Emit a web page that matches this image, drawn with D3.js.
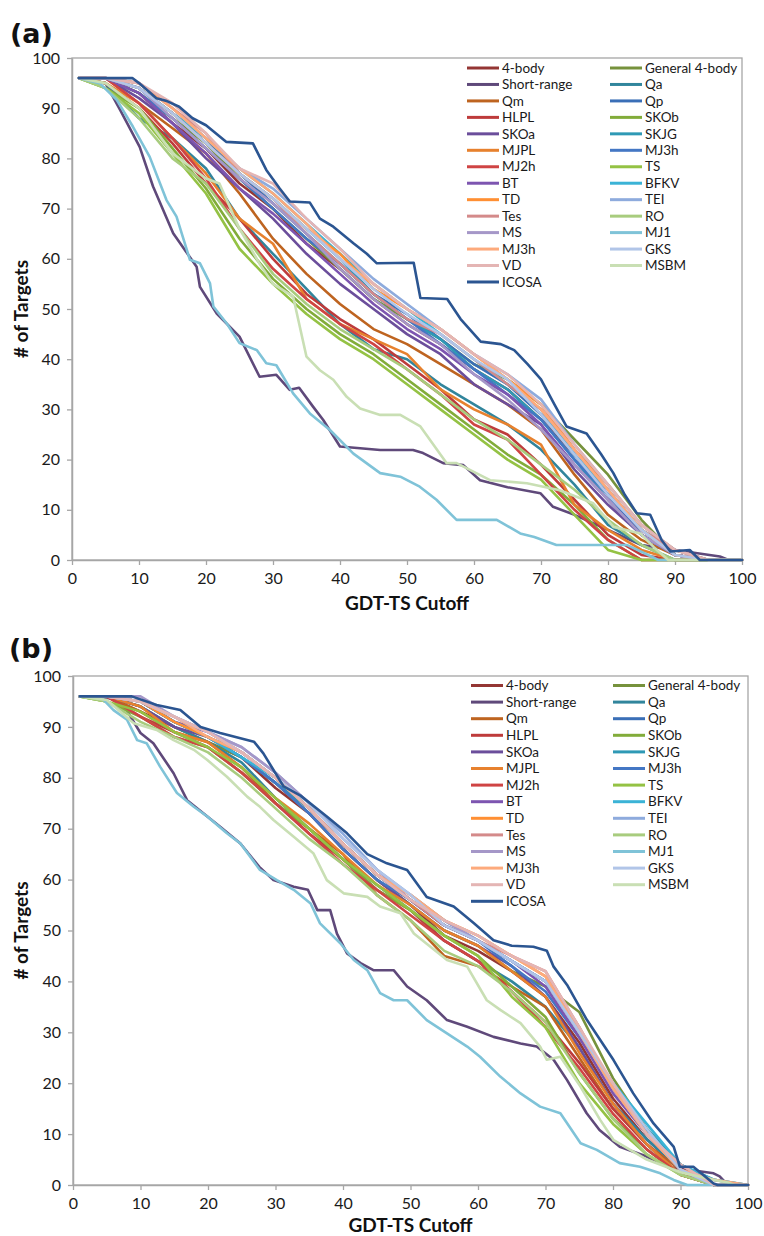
<!DOCTYPE html>
<html><head><meta charset="utf-8">
<script src="https://cdn.jsdelivr.net/npm/d3@7"></script>
<style>body{margin:0;background:#fff}svg{display:block}</style>
</head><body>
<svg id="chart" width="764" height="1236"></svg>
<script>
// ---------- DATA ----------
const cutoffs = [1,5,10,15,20,25,30,35,40,45,50,55,60,65,70,75,80,85,90,95,100];
const xTicks = [0,10,20,30,40,50,60,70,80,90,100];
const yTicks = [0,10,20,30,40,50,60,70,80,90,100];
const seriesNames = ["4-body","General 4-body","Short-range","Qa","Qm","Qp","HLPL","SKOb","SKOa","SKJG","MJPL","MJ3h","MJ2h","TS","BT","BFKV","TD","TEI","Tes","RO","MS","MJ1","MJ3h","GKS","VD","MSBM","ICOSA"];
const seriesColors = ["#943634","#76923C","#5F497A","#31859C","#BE6420","#3A6FB7","#BE3B3B","#82AC3A","#6B4E9B","#2F99B5","#E7812E","#4477C4","#CF4444","#94C244","#7D55B0","#3BB3D6","#FF8F33","#8EABDD","#D48A8A","#A8CC7E","#A597C8","#7FC3D8","#FDAA7C","#B1C5E8","#E4B5B4","#C9DFB4","#2B5591"];

// Panel (a): # of targets at each cutoff (bundle series on the common cutoffs)
const a_4body  = [96,96,93,87,82,75,70,63,58,52,47,43,38,34,28,21,13,6,1,0,0];
const a_gen4   = [96,96,93,88,83,76,70,64,58,52,48,44,39,36,31,24,17,8,1,0,0];
const a_qa     = [96,95,88,84,78,68,61,54,47,42,40,35,31,27,22,15,7,3,0,0,0];
const a_qm     = [96,96,91,86,81,73,64,57,51,46,43,39,35,31,26,17,9,4,1,0,0];
const a_qp     = [96,96,94,89,84,77,71,65,59,53,49,44,39,35,29,21,13,5,1,0,0];
const a_hlpl   = [96,95,90,83,75,68,60,53,48,44,39,34,28,25,19,12,5,1,0,0,0];
const a_skob   = [96,94,90,82,74,64,56,50,45,41,36,31,26,21,17,11,4,0,0,0,0];
const a_skoa   = [96,96,92,87,80,74,68,61,55,50,45,41,35,31,27,18,11,5,1,0,0];
const a_skjg   = [96,96,94,89,83,77,72,66,60,53,48,44,38,34,28,20,12,5,1,0,0];
const a_mjpl   = [96,95,91,84,77,68,63,52,47,44,41,34,30,27,23,11,6,2,0,0,0];
const a_mj3h   = [96,96,93,88,82,76,70,64,59,53,48,43,38,33,28,20,13,6,1,0,0];
const a_mj2h   = [96,96,91,84,76,66,58,52,47,43,38,33,27,24,17,10,4,0,0,0,0];
const a_ts     = [96,94,89,81,73,62,55,49,44,40,35,30,25,20,16,9,2,0,0,0,0];
const a_bt     = [96,96,93,87,81,74,69,63,57,51,46,42,37,33,27,19,12,5,1,0,0];
const a_bfkv   = [96,96,94,89,84,78,73,67,61,55,50,45,40,35,30,21,14,6,2,0,0];
const a_td     = [96,96,94,89,83,77,72,66,61,54,50,46,41,36,31,22,15,7,2,0,0];
const a_tei    = [96,96,95,90,84,78,74,68,62,56,51,46,41,37,32,23,15,7,2,0,0];
const a_tes    = [96,96,95,90,85,77,72,65,59,53,48,45,40,35,30,22,14,6,2,0,0];
const a_ro     = [96,94,88,80,75,66,57,51,46,42,38,33,28,24,19,14,8,3,0,0,0];
const a_ms     = [96,96,94,88,82,76,71,65,58,52,47,43,37,32,26,19,12,5,1,0,0];
const a_mj3h2  = [96,96,95,90,84,78,73,67,60,55,50,46,41,36,30,22,14,6,1,0,0];
const a_gks    = [96,96,94,89,83,77,72,66,60,54,49,45,40,36,29,21,13,6,1,0,0];
const a_vd     = [96,96,95,91,85,78,75,68,62,55,50,46,41,37,31,23,15,7,2,0,0];
// Panel (a) distinctive series, read at their own cutoffs
const a_short_x = [1,5,7.2,10.1,12.1,15.1,18.6,19.1,21.6,25,28,30.5,32.5,33.9,36,37.5,40,46,50.9,52.4,55.4,58.4,60.9,65,69.9,71.8,75,80,85,90,96.7,98,100];
const a_short   = [96,95,89.6,82.3,74.4,65.1,58.4,54.4,49.1,44.5,36.5,36.9,33.9,34.3,30.5,27.9,22.6,21.9,21.9,21.3,19.3,18.9,15.9,14.5,13.3,10.6,9,6,3,2,0.7,0,0];
const a_mj1_x = [1,4.2,6.7,9.1,11.6,14.1,15.6,17.6,19.1,20.6,21.1,23.1,25,27.6,29,30.5,33,35.5,38.5,42,46,49,51.9,54.4,57.4,63.4,66.9,69,72.3,82.8,86,87.5,100];
const a_mj1   = [96,94.9,91.6,86.3,80.3,71.7,68.4,59.8,59.1,55.1,50.5,47.1,43.2,41.8,39.2,38.8,33.2,29.2,25.9,21.2,17.3,16.6,14.6,12,8,8,5.3,4.6,3,3,1,0,0];
const a_msbm_x = [1,5,10,15,20,22,25,28,30,33,35,37,39,41,43,46,49,52,55.9,57.4,62.4,67.9,72.8,77.8,80.8,84.8,86.8,89,100];
const a_msbm   = [96,95,90,81,76,75,66,59,55,52.5,40.5,37.8,35.9,32.5,30.2,28.9,28.9,26.6,19.3,19.3,15.9,15.3,13.9,11.3,6.6,5.3,2.6,0,0];
const a_icosa_x = [1,9,10,12.6,14,16,18,20,23,27,29,31,32.5,35.5,37,39,42,44,45.5,51,52,56,58,61,64,66,68,70,72,73.8,76.8,79,80.8,82.5,84.3,86.3,88,89.3,92.2,93.7,100];
const a_icosa   = [96,96,95,92,91.5,90.3,88,86.6,83.3,83,77.7,74,71.4,71.2,68,66.4,63.1,61,59.1,59.2,52.2,52,48,43.5,43,41.8,39,36,31,26.6,25.2,21,17.3,13,9.3,9,4,1.7,2,0,0];

// Panel (b)
const b_4body  = [96,96,93,90,87,84,78,73,66,60,55,49,46,42,37,28,17,9,3,0,0];
const b_gen4   = [96,96,94,90,87,84,79,73,66,60,55,50,47,42,39,34,21,11,4,0,0];
const b_qa     = [96,96,94,90,87,83,76,70,64,59,54,48,44,40,35,27,16,9,3,0,0];
const b_qm     = [96,96,93,89,87,82,75,70,65,57,52,45,43,39,35,25,15,8,3,0,0];
const b_qp     = [96,96,95,91,88,85,80,74,67,61,56,51,48,44,40,30,19,10,3,0,0];
const b_hlpl   = [96,96,92,89,86,81,75,69,64,58,54,48,44,38,32,24,15,8,2,0,0];
const b_skob   = [96,95,92,88,86,81,75,70,64,58,54,49,45,39,33,22,13,7,2,0,0];
const b_skoa   = [96,96,94,90,88,84,79,73,66,60,55,50,47,43,37,27,16,8,2,0,0];
const b_skjg   = [96,96,95,91,88,84,79,74,67,61,56,51,48,44,40,30,19,11,4,1,0];
const b_mjpl   = [96,96,94,89,87,82,76,71,65,59,55,50,47,42,37,26,16,8,2,0,0];
const b_mj3h   = [96,96,95,91,88,84,79,73,66,60,56,51,48,43,38,29,19,10,3,0,0];
const b_mj2h   = [96,96,92,88,86,81,75,69,63,58,53,48,44,38,31,23,14,7,2,0,0];
const b_ts     = [96,95,93,89,86,82,76,70,64,59,54,49,45,37,31,20,12,6,2,0,0];
const b_bt     = [96,96,95,91,89,85,80,74,67,61,56,51,48,44,39,29,18,10,3,0,0];
const b_bfkv   = [96,96,95,91,88,84,80,74,67,61,56,52,48,44,40,30,20,12,4,1,0];
const b_td     = [96,96,95,91,88,85,80,74,67,61,57,52,49,45,41,31,19,10,3,0,0];
const b_tei    = [96,96,95,92,89,86,81,75,69,62,57,52,48,44,40,30,19,10,3,0,0];
const b_tes    = [96,96,95,92,89,85,80,74,67,61,56,51,48,45,42,31,19,10,4,0,0];
const b_ro     = [96,95,91,88,85,80,74,68,63,57,52,46,43,38,32,22,13,6,2,0,0];
const b_ms     = [96,96,96,92,89,86,81,75,68,62,56,52,48,44,40,30,19,10,3,0,0];
const b_mj3h2  = [96,96,95,92,88,85,80,74,67,61,57,52,49,45,41,30,19,10,3,1,0];
const b_gks    = [96,96,95,92,89,85,80,75,68,62,57,51,48,44,40,30,20,11,3,0,0];
const b_vd     = [96,96,95,92,89,85,80,74,67,61,56,52,49,45,42,31,20,10,4,0,0];
const b_short_x = [1,3.6,7,10,11.9,14.9,16.9,19.9,21.8,24.8,27.6,29.7,32.7,34.8,36.2,38.1,39.1,40.6,42.6,44.5,47.5,49.5,52.4,55.4,58.4,62.3,66.3,68.7,71.2,73.2,76.1,78,81,85,88,94.9,95.8,97,100];
const b_short   = [96,96,95.3,88.8,86.8,80.9,75.6,72.4,70.4,67.1,62.5,59.9,58.6,58,54,54,49.4,45.5,43.6,42.2,42.2,39,36.3,32.4,31.1,29.1,27.8,27.2,24.6,20.6,14.1,10.8,7.5,5.6,3.6,2.3,1.7,0,0];
const b_mj1_x = [1,4.1,6,8,9.5,10.9,12.9,15.4,17.9,19.9,22.8,24.8,27.7,30.2,32.7,35.2,36.6,39.6,41.6,43.6,45.5,47.5,49.5,52.4,55.4,58.4,60.3,63.3,66.3,69.2,72.2,75.2,77.6,81,84,87,89,91,100];
const b_mj1   = [96,95.9,93.3,91.4,87.4,86.8,82.2,77,74.3,72.4,69.1,67.1,61.9,59.9,58,55.3,51.4,47.5,44.2,42.2,37.7,36.3,36.3,32.4,29.8,27.2,25.2,21.3,18,15.4,14.1,8.2,6.9,4.3,3.6,2.3,1,0,0];
const b_msbm_x = [1,5,9,12.4,14.9,17.9,19.9,22.8,25.8,27.7,29.7,32.7,35.6,37.6,40.1,43.6,45.5,48.5,50.5,55.4,58.4,61.3,63.3,66.3,69.2,70.2,72.2,75.2,78.1,80.1,85,90,95,97,98,100];
const b_msbm   = [96,95.3,90.7,89.4,87.4,85.5,83.5,80.2,76.3,74.3,71.7,68.4,65.2,59.9,57.3,56.6,54.7,53.4,49.4,44.2,42.9,36.3,34.4,31.8,27.2,24.6,25.2,19.3,12.8,8.8,5,2.5,1,0.5,0,0];
const b_icosa_x = [1,8.7,12.4,15.9,18.9,21.8,26.8,28.2,31.2,33.7,37.6,40.6,43.6,46.5,49.5,52.4,56.4,59.4,62.3,65,68.2,70.2,71.2,73.2,76.1,80.1,83,86,89,89.9,91.9,94.9,95.5,100];
const b_icosa   = [96,96,94.3,93.3,90,88.8,87.1,84.8,78.3,76.5,72.4,69.1,65,63.2,61.9,56.6,54.7,51.4,48.1,47,46.8,46,42.9,39.3,32.5,24.5,18,12.1,7.5,3.6,3.6,0.3,0,0];

// series lists in legend order: [cutoffs, values]
const panelASeries = [[cutoffs,a_4body],[cutoffs,a_gen4],[a_short_x,a_short],[cutoffs,a_qa],[cutoffs,a_qm],[cutoffs,a_qp],[cutoffs,a_hlpl],[cutoffs,a_skob],[cutoffs,a_skoa],[cutoffs,a_skjg],[cutoffs,a_mjpl],[cutoffs,a_mj3h],[cutoffs,a_mj2h],[cutoffs,a_ts],[cutoffs,a_bt],[cutoffs,a_bfkv],[cutoffs,a_td],[cutoffs,a_tei],[cutoffs,a_tes],[cutoffs,a_ro],[cutoffs,a_ms],[a_mj1_x,a_mj1],[cutoffs,a_mj3h2],[cutoffs,a_gks],[cutoffs,a_vd],[a_msbm_x,a_msbm],[a_icosa_x,a_icosa]];
const panelBSeries = [[cutoffs,b_4body],[cutoffs,b_gen4],[b_short_x,b_short],[cutoffs,b_qa],[cutoffs,b_qm],[cutoffs,b_qp],[cutoffs,b_hlpl],[cutoffs,b_skob],[cutoffs,b_skoa],[cutoffs,b_skjg],[cutoffs,b_mjpl],[cutoffs,b_mj3h],[cutoffs,b_mj2h],[cutoffs,b_ts],[cutoffs,b_bt],[cutoffs,b_bfkv],[cutoffs,b_td],[cutoffs,b_tei],[cutoffs,b_tes],[cutoffs,b_ro],[cutoffs,b_ms],[b_mj1_x,b_mj1],[cutoffs,b_mj3h2],[cutoffs,b_gks],[cutoffs,b_vd],[b_msbm_x,b_msbm],[b_icosa_x,b_icosa]];

// ---------- LAYOUT ----------
const panels = [
  {label:"(a)", series:panelASeries, left:72, right:742, top:58, bottom:560, labelX:10, labelY:43, titleGap:50,
   legX1:467, legX2:610, legTop:68, legStep:16.46, legLine:32},
  {label:"(b)", series:panelBSeries, left:73, right:748, top:676, bottom:1185, labelX:9, labelY:658, titleGap:47,
   legX1:471, legX2:613, legTop:685.5, legStep:16.6, legLine:32}
];

const svg = d3.select("#chart");
const FONT = "Lato, 'Open Sans', sans-serif";
const axisColor = "#A6A6A6";

panels.forEach(p => {
  const g = svg.append("g");
  const x = d3.scaleLinear().domain([0,100]).range([p.left, p.right]);
  const y = d3.scaleLinear().domain([0,100]).range([p.bottom, p.top]);

  g.append("rect").attr("x", p.left).attr("y", p.top)
    .attr("width", p.right - p.left).attr("height", p.bottom - p.top)
    .attr("fill", "none").attr("stroke", axisColor).attr("stroke-width", 1.3);

  const xAxis = d3.axisBottom(x).tickValues(xTicks).tickSize(5).tickSizeOuter(0).tickPadding(8);
  const yAxis = d3.axisLeft(y).tickValues(yTicks).tickSize(5).tickSizeOuter(0).tickPadding(7);
  const gx = g.append("g").attr("transform", `translate(0,${p.bottom})`).call(xAxis);
  const gy = g.append("g").attr("transform", `translate(${p.left},0)`).call(yAxis);
  [gx, gy].forEach(ax => {
    ax.select(".domain").attr("stroke", axisColor).attr("stroke-width", 1.5);
    ax.selectAll(".tick line").attr("stroke", axisColor).attr("stroke-width", 1.3);
    ax.selectAll(".tick text").attr("fill", "#1a1a1a").style("font-family", FONT).style("font-size", "16px");
  });

  p.series.forEach(([xs, vals], k) => {
    const pts = vals.map((v, i) => [xs[i], v]);
    const line = d3.line().x(d => x(d[0])).y(d => y(d[1]));
    g.append("path").datum(pts).attr("d", line)
      .attr("fill", "none").attr("stroke", seriesColors[k]).attr("stroke-width", 2.6)
      .attr("stroke-linejoin", "round").attr("stroke-linecap", "round");
  });

  seriesNames.forEach((name, k) => {
    const col = k % 2, row = Math.floor(k / 2);
    const lx = col === 0 ? p.legX1 : p.legX2;
    const ly = p.legTop + row * p.legStep;
    g.append("line").attr("x1", lx).attr("x2", lx + p.legLine).attr("y1", ly).attr("y2", ly)
      .attr("stroke", seriesColors[k]).attr("stroke-width", 3);
    g.append("text").attr("x", lx + p.legLine + 3).attr("y", ly).attr("dy", "0.35em")
      .style("font-family", FONT).style("font-size", "13.5px").attr("fill", "#1a1a1a").text(name);
  });

  g.append("text").attr("x", (p.left + p.right) / 2).attr("y", p.bottom + p.titleGap)
    .attr("text-anchor", "middle").style("font-family", FONT).style("font-weight", "bold")
    .style("font-size", "19px").attr("fill", "#111").text("GDT-TS Cutoff");
  g.append("text").attr("transform", `translate(28,${(p.top + p.bottom) / 2}) rotate(-90)`)
    .attr("text-anchor", "middle").style("font-family", FONT).style("font-weight", "bold")
    .style("font-size", "19px").attr("fill", "#111").text("# of Targets");

  g.append("text").attr("x", p.labelX).attr("y", p.labelY)
    .style("font-family", "'DejaVu Sans', sans-serif").style("font-weight", "bold")
    .style("font-size", "27px").attr("fill", "#111").text(p.label);
});
</script>
</body></html>
